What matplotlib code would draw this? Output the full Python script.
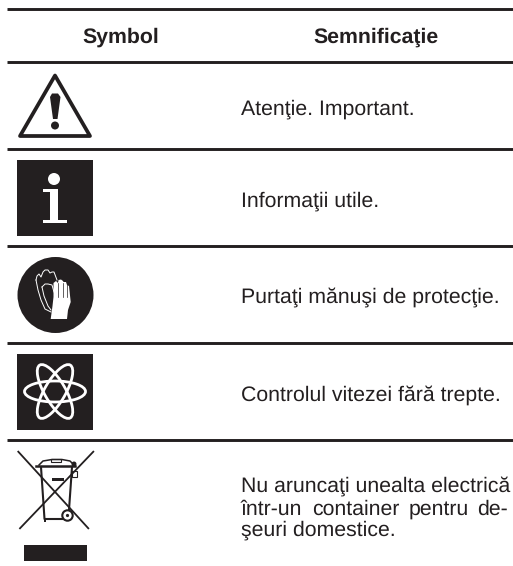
import matplotlib
matplotlib.use('Agg')
import matplotlib.pyplot as plt
from matplotlib.patches import Rectangle, Circle, Ellipse, Polygon

plt.rcParams['font.family'] = ['Liberation Sans', 'DejaVu Sans']
plt.rcParams['text.hinting'] = 'no_hinting'

headers = ['Symbol', 'Semnificaţie']
rows = ['Atenţie. Important.', 'Informaţii utile.', 'Purtaţi mănuşi de protecţie.',
        'Controlul vitezei fără trepte.', 'Nu aruncaţi unealta electrică']
row_baselines = [115, 206.7, 303, 400.3, 492]
justified_words = ['într-un', 'container', 'pentru', 'de-']
justified_x = [241, 312, 409, 508]
last_line = 'şeuri domestice.'
rule_y = [9, 62, 149.3, 246.3, 343.3, 440]

ink = '#231f20'
fs = 15.3

fig = plt.figure(figsize=(5.13, 5.66), dpi=100)
ax = fig.add_axes([0, 0, 1, 1])
ax.set_xlim(0, 513)
ax.set_ylim(566, 0)
ax.axis('off')

# table rules
for y in rule_y:
    ax.plot([7, 513], [y, y], color=ink, lw=2.1, solid_capstyle='butt')

# text
ax.text(120.5, 42.7, headers[0], fontsize=fs, fontweight='bold', ha='center', color=ink)
ax.text(375.5, 42.7, headers[1], fontsize=fs, fontweight='bold', ha='center', color=ink)
for label, y in zip(rows, row_baselines):
    ax.text(241, y, label, fontsize=fs, color=ink)
for i, word in enumerate(justified_words):
    ax.text(justified_x[i], 514.7, word, fontsize=fs, color=ink,
            ha='right' if i == 3 else 'left')
ax.text(241, 535.3, last_line, fontsize=fs, color=ink)

# warning triangle
ax.add_patch(Polygon([(55, 75.5), (20, 136), (90, 136)], closed=True, fill=False,
                     ec=ink, lw=2.7, joinstyle='round'))
ax.add_patch(Polygon([(50, 97), (52, 93.5), (58, 93.5), (60.5, 97), (57.5, 119), (53, 119)],
                     closed=True, fc=ink, ec='none'))
ax.add_patch(Circle((55, 125.5), 4, fc=ink, ec='none'))

# info square
ax.add_patch(Rectangle((17, 160), 76, 76, fc=ink, ec='none'))
ax.add_patch(Circle((54, 179), 6, fc='white', ec='none'))
ax.add_patch(Polygon([(43, 188.5), (58, 188.5), (58, 219.5), (67, 219.5), (67, 222.5),
                      (43, 222.5), (43, 219.5), (50, 219.5), (50, 191.5), (43, 191.5)],
                     closed=True, fc='white', ec='none'))

# gloves in circle
ax.add_patch(Circle((55.5, 295), 38, fc=ink, ec='none'))
ax.add_patch(Polygon([(50.7, 319), (52.5, 306), (53.5, 297), (53.5, 283), (56, 281), (58, 283),
                      (58.5, 280), (61, 279.5), (63, 281), (63.5, 282), (66, 282), (67, 285),
                      (69, 286), (70.7, 302), (68, 310), (67, 319)],
                     closed=True, fc='white', ec='none'))
for x in [58, 62.7, 66.5]:
    ax.plot([x, x], [283, 297], color=ink, lw=0.5)
ax.plot([36, 37, 39, 41, 43, 45, 48, 50, 52, 54, 57],
        [280, 276, 274, 277, 272, 270, 270, 273, 272, 272, 280], color='white', lw=0.7)
ax.plot([36, 38, 41, 45, 51], [280, 290, 300, 309, 312], color='white', lw=0.7)
ax.plot([42, 45, 48, 52, 54], [287, 284, 284, 285, 292], color='white', lw=0.7)
ax.plot([42, 44, 48, 51], [287, 296, 306, 310], color='white', lw=0.7)

# atom square
ax.add_patch(Rectangle((17, 354), 76, 76, fc=ink, ec='none'))
for angle in [0, 60, 120]:
    ax.add_patch(Ellipse((55, 391.5), 61, 21, angle=angle, fill=False, ec='white', lw=2.0))

# crossed out bin
ax.plot([18.3, 88.3], [451.7, 528.3], color=ink, lw=1.3)
ax.plot([93.3, 20], [451.7, 528.3], color=ink, lw=1.3)
ax.plot([41, 44.5, 62], [467, 519, 519], color=ink, lw=1.5)
ax.plot([72, 69], [467, 510], color=ink, lw=1.5)
ax.plot([36, 75], [465.5, 465.5], color=ink, lw=1.8)
ax.plot([39, 43, 52, 62, 70, 74], [465, 461, 459.5, 459.5, 461, 465], color=ink, lw=1.1)
ax.add_patch(Rectangle((51, 459), 10, 3, fill=False, ec=ink, lw=0.8))
ax.add_patch(Rectangle((51.5, 478), 12.5, 3, fc=ink, ec='none'))
ax.add_patch(Rectangle((71.5, 471), 5, 6, fill=False, ec=ink, lw=0.8))
ax.add_patch(Circle((74, 464), 2.5, fc=ink, ec='none'))
ax.add_patch(Circle((67.5, 515.5), 5.2, fill=False, ec=ink, lw=1.5))
ax.add_patch(Circle((67.5, 515.5), 1.6, fc=ink, ec='none'))
ax.add_patch(Rectangle((43.5, 519), 2.5, 3, fc=ink, ec='none'))

# black bar below bin
ax.add_patch(Rectangle((24, 545), 63, 16, fc=ink, ec='none'))

fig.savefig('out.png', dpi=100)
plt.close()
